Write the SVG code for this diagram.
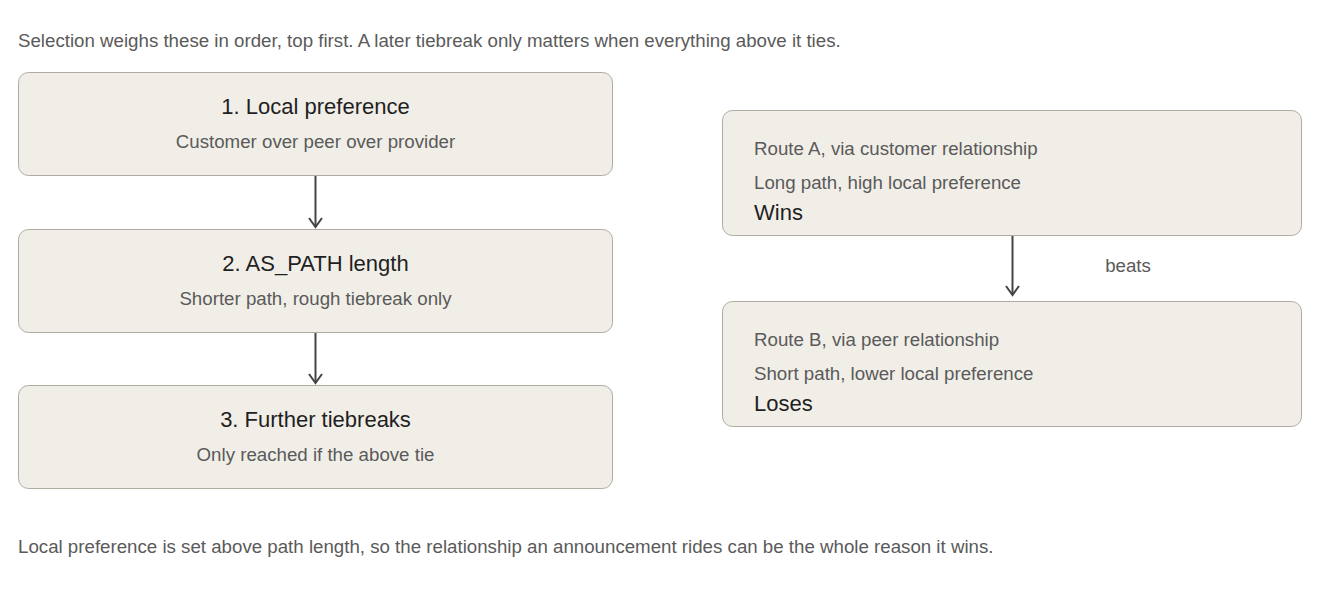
<svg xmlns="http://www.w3.org/2000/svg" width="1320" height="590" viewBox="0 0 1320 590">
<defs>
<style>
.box{fill:#f1eee8;stroke:#aeaba3;stroke-width:1}
.t{font-family:"Liberation Sans",Arial,sans-serif;font-size:22px;fill:#1f1f1f}
.s{font-family:"Liberation Sans",Arial,sans-serif;font-size:18.7px;fill:#5a5a5a}
.n{font-family:"Liberation Sans",Arial,sans-serif;font-size:18.7px;fill:#5a5a5a}
.c{stroke:#444;stroke-width:2;fill:none}
</style>
<marker id="ah" markerWidth="16" markerHeight="16" refX="13" refY="8" orient="auto" markerUnits="userSpaceOnUse" viewBox="0 0 16 16">
<path d="M4,1.5 L13,8 L4,14.5" fill="none" stroke="#444" stroke-width="2"/>
</marker>
</defs>
<rect width="1320" height="590" fill="#ffffff"/>
<text class="n" x="18" y="47">Selection weighs these in order, top first. A later tiebreak only matters when everything above it ties.</text>
<g id="connectors">
<line class="c" x1="315.5" y1="176" x2="315.5" y2="227" marker-end="url(#ah)"/>
<line class="c" x1="315.5" y1="332" x2="315.5" y2="383" marker-end="url(#ah)"/>
<line class="c" x1="1012.5" y1="236" x2="1012.5" y2="295" marker-end="url(#ah)"/>
<text class="n" x="1128" y="272" text-anchor="middle">beats</text>
</g>
<g id="node-local-pref">
<rect class="box" x="18.5" y="72.5" width="594" height="103" rx="10"/>
<text class="t" x="315.5" y="114" text-anchor="middle">1. Local preference</text>
<text class="s" x="315.5" y="148" text-anchor="middle">Customer over peer over provider</text>
</g>
<g id="node-as-path">
<rect class="box" x="18.5" y="229.5" width="594" height="103" rx="10"/>
<text class="t" x="315.5" y="271" text-anchor="middle">2. AS_PATH length</text>
<text class="s" x="315.5" y="305" text-anchor="middle">Shorter path, rough tiebreak only</text>
</g>
<g id="node-further">
<rect class="box" x="18.5" y="385.5" width="594" height="103" rx="10"/>
<text class="t" x="315.5" y="427" text-anchor="middle">3. Further tiebreaks</text>
<text class="s" x="315.5" y="461" text-anchor="middle">Only reached if the above tie</text>
</g>
<g id="node-route-a">
<rect class="box" x="722.5" y="110.5" width="579" height="125" rx="10"/>
<text class="s" x="754" y="155">Route A, via customer relationship</text>
<text class="s" x="754" y="189">Long path, high local preference</text>
<text class="t" x="754" y="220">Wins</text>
</g>
<g id="node-route-b">
<rect class="box" x="722.5" y="301.5" width="579" height="125" rx="10"/>
<text class="s" x="754" y="346">Route B, via peer relationship</text>
<text class="s" x="754" y="380">Short path, lower local preference</text>
<text class="t" x="754" y="411">Loses</text>
</g>
<text class="n" x="18" y="553">Local preference is set above path length, so the relationship an announcement rides can be the whole reason it wins.</text>
</svg>
